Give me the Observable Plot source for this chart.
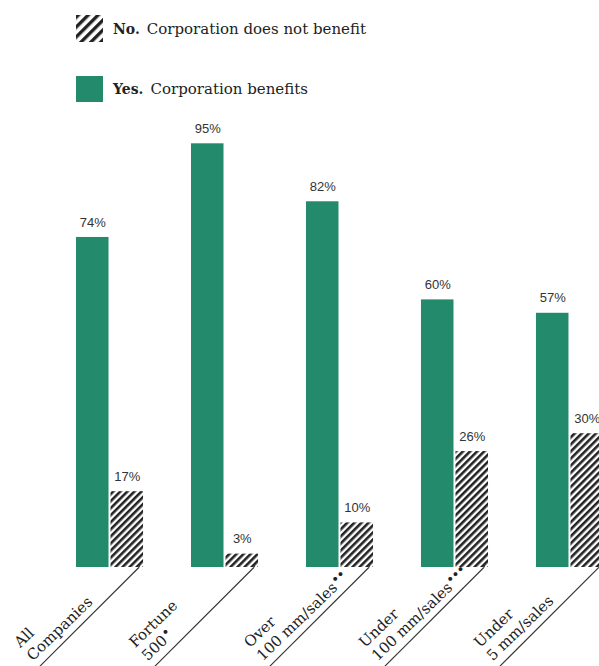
<!DOCTYPE html>
<html>
<head>
<meta charset="utf-8">
<script src="https://cdn.jsdelivr.net/npm/d3@7"></script>
<script src="https://cdn.jsdelivr.net/npm/@observablehq/plot@0.6"></script>
<style>
  html, body { margin: 0; padding: 0; background: #fff; }
  #wrap { width: 599px; height: 666px; overflow: hidden; position: relative; }
  #legend { position: relative; width: 599px; height: 115px; font-family: "DejaVu Serif", serif; font-size: 15px; color: #222; }
  .item { position: absolute; left: 76px; display: flex; align-items: center; }
  .item svg { display: block; margin-right: 10px; }
  .item b { margin-right: 7px; font-size: 14px; }
  #chart svg { display: block; overflow: visible; }
</style>
</head>
<body>
<div id="wrap">
  <div id="legend"></div>
  <div id="chart"></div>
</div>
<script>
// ---- data ----
const groups = ["All Companies", "Fortune 500", "Over 100 mm/sales", "Under 100 mm/sales", "Under 5 mm/sales"];
const labelLine1 = ["All", "Fortune", "Over", "Under", "Under"];
const labelLine2 = ["Companies", "500•", "100 mm/sales••", "100 mm/sales•••", "5 mm/sales"];
const yesValues = [74, 95, 82, 60, 57];
const noValues = [17, 3, 10, 26, 30];
const legendKeys = ["No.", "Yes."];
const legendTexts = ["Corporation does not benefit", "Corporation benefits"];

const green = "#238a6c";
const ink = "#222";

const yesData = groups.map((g, i) => ({group: g, value: yesValues[i]}));
const noData = groups.map((g, i) => ({group: g, value: noValues[i]}));
const labelData = groups.map((g, i) => ({group: g, text: labelLine1[i] + "\n" + labelLine2[i]}));

// ---- legend ----
const hatchDef = (id, w, s) => `<defs><pattern id="${id}" patternUnits="userSpaceOnUse" width="${w}" height="${w}" patternTransform="rotate(45)"><rect x="0" y="0" width="${s}" height="${w}" fill="${ink}"/></pattern></defs>`;
const legend = document.getElementById("legend");
legend.innerHTML = `
  <div class="item" style="top:15px;height:27px">
    <svg width="27" height="27">${hatchDef("hatchL", 7, 3.4)}<rect width="27" height="27" fill="url(#hatchL)"/></svg>
    <b>${legendKeys[0]}</b><span>${legendTexts[0]}</span>
  </div>
  <div class="item" style="top:76px;height:26px">
    <svg width="27" height="26"><rect width="27" height="26" fill="${green}"/></svg>
    <b>${legendKeys[1]}</b><span>${legendTexts[1]}</span>
  </div>`;

// ---- chart ----
const lineTop = 0.93;   // where the slanted underline meets the baseline (in-band x)
const lineDrop = -24;   // how far (in y units) the underline runs below the baseline
const lineRun = 1.6;    // in-band x units covered by the underline

const chart = Plot.plot({
  width: 599,
  height: 551,
  marginTop: 6,
  marginBottom: 99,
  marginLeft: 76,
  marginRight: -4,
  fx: {domain: groups, paddingInner: 0.417, paddingOuter: 0, round: false, axis: null},
  x: {domain: [0, 1], axis: null},
  y: {domain: [0, 100], axis: null},
  marks: [
    Plot.rectY(yesData, {fx: "group", x1: 0, x2: 0.485, y1: 0, y2: "value", fill: green}),
    Plot.rectY(noData, {fx: "group", x1: 0.515, x2: 1, y1: 0, y2: "value", fill: "url(#hatch)"}),
    Plot.text(yesData, {fx: "group", x: 0.2425, y: "value", text: d => d.value + "%", dy: -15,
      fontSize: 13, fontFamily: "Liberation Sans, Arial, sans-serif", fill: "#333"}),
    Plot.text(noData, {fx: "group", x: 0.7575, y: "value", text: d => d.value + "%", dy: -15,
      fontSize: 13, fontFamily: "Liberation Sans, Arial, sans-serif", fill: "#333"}),
    Plot.link(noData, {fx: "group", x1: lineTop, y1: 0, x2: lineTop - lineRun, y2: lineDrop,
      stroke: "#333", strokeWidth: 1.1}),
    Plot.link(noData, {fx: "group", x1: lineTop, y1: 0, x2: lineTop + 0.02, y2: 0.9,
      stroke: "#333", strokeWidth: 1.1}),
    Plot.text(labelData, {fx: "group", x: lineTop, y: 0, text: "text", rotate: -44,
      textAnchor: "start", lineAnchor: "bottom", lineHeight: 1.22, dx: -106, dy: 94,
      fontSize: 15, fontFamily: "DejaVu Serif, serif", fill: ink, className: "catlabel"})
  ]
});

const defs = d3.create("svg:defs");
defs.html(`<pattern id="hatch" patternUnits="userSpaceOnUse" width="5" height="5" patternTransform="rotate(45)"><rect x="0" y="0" width="2.6" height="5" fill="${ink}"/></pattern>`);
chart.insertBefore(defs.node(), chart.firstChild);

// raise the footnote bullets as small superscripts
d3.select(chart).selectAll(".catlabel tspan").each(function () {
  const t = this.textContent;
  const m = t.match(/^(.*?)(•+)$/);
  if (!m) return;
  const sel = d3.select(this);
  sel.text(m[1]);
  sel.append("tspan").attr("font-size", 11).attr("font-weight", "bold").attr("dy", "-0.45em").attr("dx", 1).text(m[2]);
});

document.getElementById("chart").appendChild(chart);
</script>
</body>
</html>
